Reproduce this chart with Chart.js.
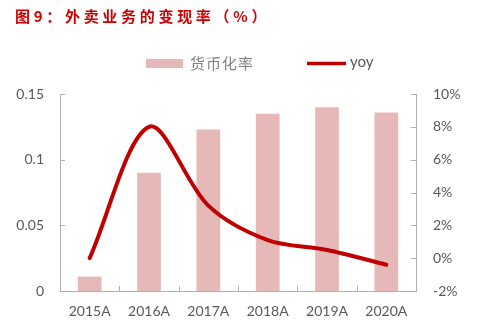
<!DOCTYPE html>
<html>
<head>
<meta charset="utf-8">
<script src="https://cdn.jsdelivr.net/npm/chart.js@4"></script>
<style>
  html, body { margin: 0; padding: 0; background: #ffffff; }
  #wrap { width: 481px; height: 326px; position: relative; }
</style>
</head>
<body>
<div id="wrap"><canvas id="c" width="481" height="326"></canvas></div>
<script>
// Years shown on the category axis
const categories = ['2015A', '2016A', '2017A', '2018A', '2019A', '2020A'];
// Monetization rate (left axis)
const monetizationRate = [0.011, 0.090, 0.123, 0.135, 0.140, 0.136];
// Year-over-year change, in percent (right axis)
const yoyPercent = [0.0, 8.0, 3.2, 1.1, 0.5, -0.4];
// Tick settings for both value axes
const leftTicks = { min: 0, max: 0.15, step: 0.05 };
const rightTicks = { min: -2, max: 10, step: 2 };

const titleText = '图9：外卖业务的变现率（%）';
const barLabel = '货币化率';
const lineLabel = 'yoy';

const BAR_COLOR = '#e6b8b7';
const LINE_COLOR = '#c00000';
const AXIS_COLOR = '#b0b0b0';
const TICK_FONT = { family: 'Lato, "Open Sans", sans-serif', size: 14 };

// Title, legend and inward-facing tick marks
const decorations = {
  id: 'decorations',
  afterDraw(chart) {
    const ctx = chart.ctx;
    const { x, y, y2 } = chart.scales;
    const area = chart.chartArea;
    ctx.save();

    // title
    ctx.fillStyle = '#cc0000';
    ctx.font = 'bold 15px "Noto Sans CJK SC", sans-serif';
    ctx.textBaseline = 'middle';
    ctx.textAlign = 'left';
    ctx.letterSpacing = '3.7px';
    ctx.fillText(titleText, 15, 16);
    ctx.letterSpacing = '0px';

    // legend
    ctx.fillStyle = BAR_COLOR;
    ctx.fillRect(146, 59, 37, 9);
    ctx.fillStyle = '#7f7f7f';
    ctx.font = '15px "Noto Sans CJK SC", sans-serif';
    ctx.letterSpacing = '1px';
    ctx.fillText(barLabel, 190, 63);
    ctx.letterSpacing = '0px';
    ctx.strokeStyle = LINE_COLOR;
    ctx.lineWidth = 3.5;
    ctx.beginPath();
    ctx.moveTo(307, 63.5);
    ctx.lineTo(346, 63.5);
    ctx.stroke();
    ctx.fillStyle = '#595959';
    ctx.font = '15px Lato, "Open Sans", sans-serif';
    ctx.fillText(lineLabel, 350, 62);

    // tick marks pointing into the plot
    ctx.strokeStyle = AXIS_COLOR;
    ctx.lineWidth = 1;
    ctx.beginPath();
    y.ticks.forEach(t => {
      const py = Math.round(y.getPixelForValue(t.value)) + 0.5;
      ctx.moveTo(area.left, py);
      ctx.lineTo(area.left + 5, py);
    });
    y2.ticks.forEach(t => {
      const py = Math.round(y2.getPixelForValue(t.value)) + 0.5;
      ctx.moveTo(area.right - 5, py);
      ctx.lineTo(area.right, py);
    });
    for (let i = 1; i < categories.length; i++) {
      const px = Math.round((x.getPixelForValue(i - 1) + x.getPixelForValue(i)) / 2) + 0.5;
      ctx.moveTo(px, area.bottom - 5);
      ctx.lineTo(px, area.bottom);
    }
    ctx.stroke();
    ctx.restore();
  }
};

new Chart(document.getElementById('c'), {
  data: {
    labels: categories,
    datasets: [
      {
        type: 'line',
        label: lineLabel,
        data: yoyPercent,
        yAxisID: 'y2',
        borderColor: LINE_COLOR,
        borderWidth: 4,
        borderCapStyle: 'round',
        tension: 0.32,
        pointRadius: 0,
        order: 0
      },
      {
        type: 'bar',
        label: barLabel,
        data: monetizationRate,
        yAxisID: 'y',
        backgroundColor: BAR_COLOR,
        categoryPercentage: 1,
        barPercentage: 0.4,
        order: 1
      }
    ]
  },
  options: {
    responsive: false,
    animation: false,
    events: [],
    layout: { padding: { top: 94, left: 0, right: 0, bottom: 0 } },
    plugins: { legend: { display: false }, title: { display: false }, tooltip: { enabled: false } },
    scales: {
      x: {
        grid: { display: false },
        border: { display: true, color: AXIS_COLOR },
        ticks: { color: '#595959', font: TICK_FONT, padding: 4, maxRotation: 0 },
        afterFit(s) { s.height = 35; }
      },
      y: {
        position: 'left',
        min: leftTicks.min, max: leftTicks.max,
        grid: { display: false },
        border: { display: true, color: AXIS_COLOR },
        ticks: { stepSize: leftTicks.step, color: '#595959', font: TICK_FONT, padding: 8,
                 callback: v => String(Number(v.toFixed(2))) },
        afterFit(s) { s.width = 60; }
      },
      y2: {
        position: 'right',
        min: rightTicks.min, max: rightTicks.max,
        grid: { display: false },
        border: { display: true, color: AXIS_COLOR },
        ticks: { stepSize: rightTicks.step, color: '#595959', font: TICK_FONT, padding: 9,
                 callback: v => v + '%' },
        afterFit(s) { s.width = 65; }
      }
    }
  },
  plugins: [decorations]
});
</script>
</body>
</html>
